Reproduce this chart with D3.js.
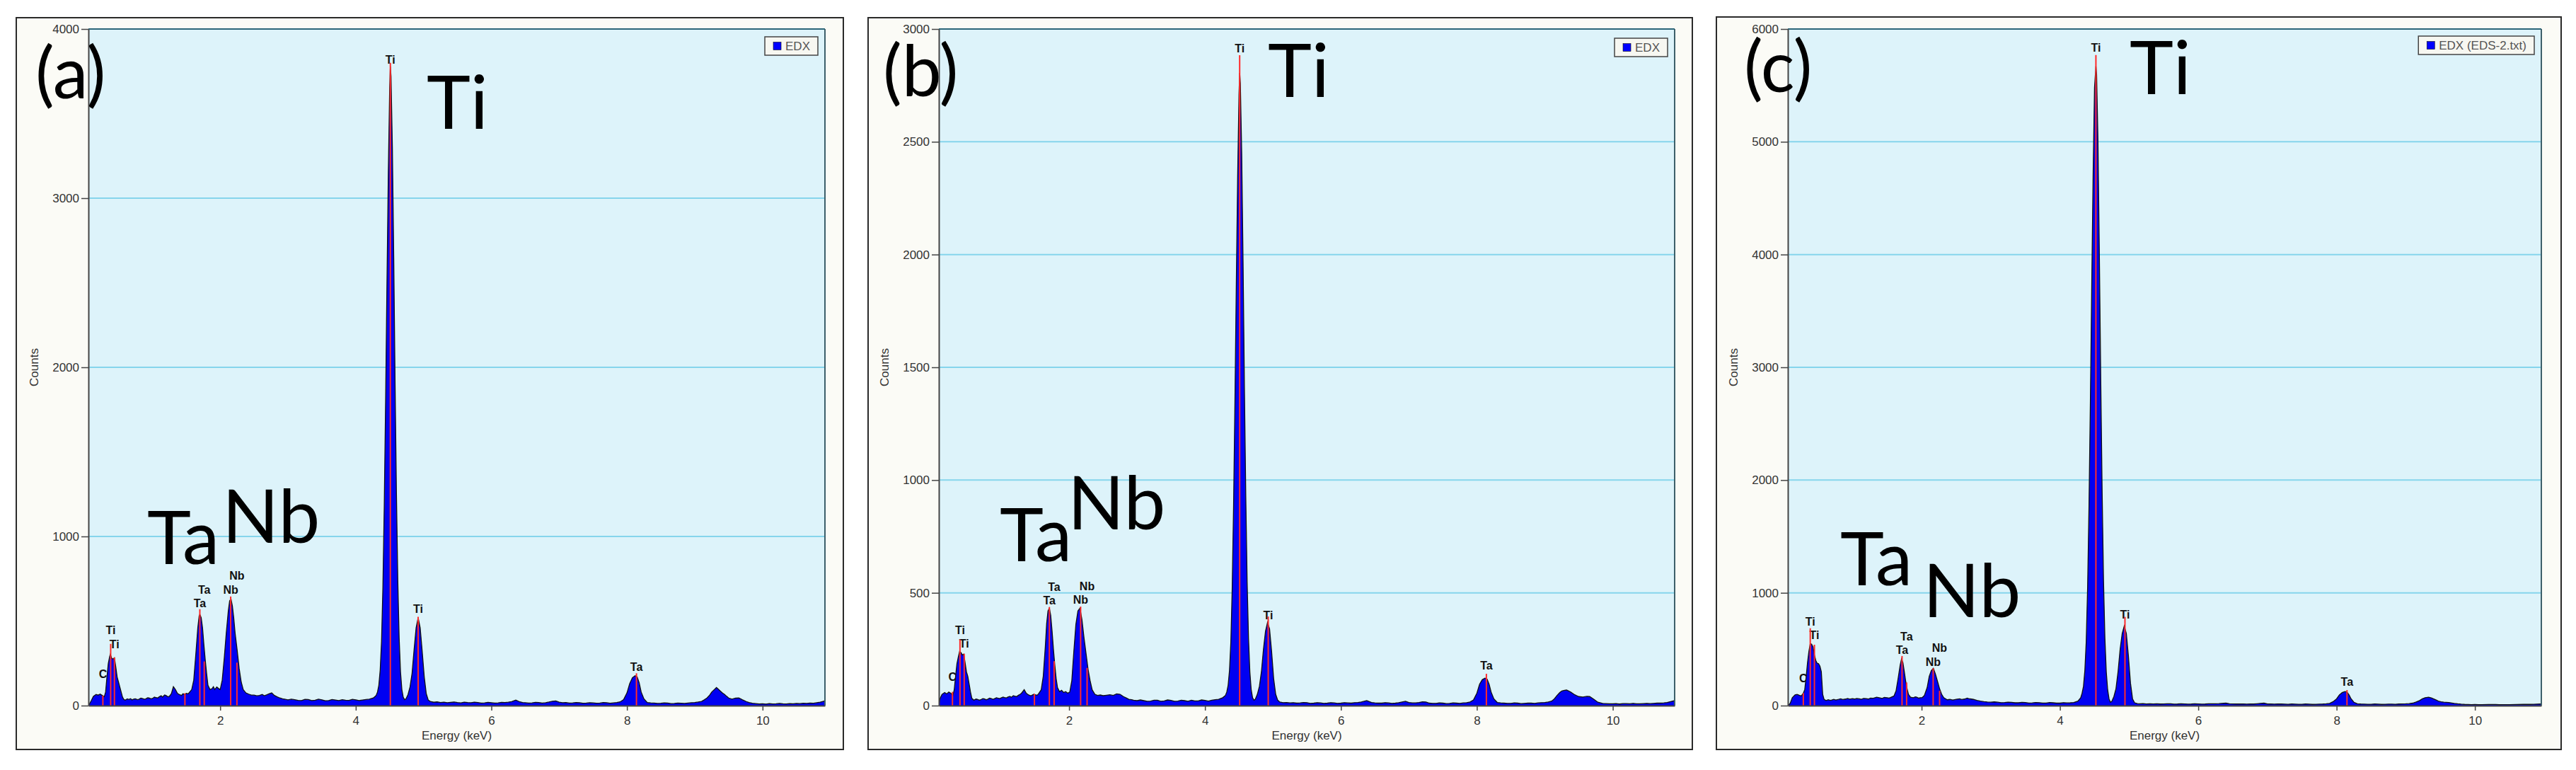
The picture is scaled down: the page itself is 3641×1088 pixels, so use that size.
<!DOCTYPE html>
<html><head><meta charset="utf-8">
<script src="https://cdn.jsdelivr.net/npm/d3@7"></script>
<style>html,body{margin:0;padding:0;background:#fff;} svg{display:block;}</style>
</head><body>
<svg id="chart" width="3641" height="1088"></svg>
<script>
// ---------------- DATA ----------------
const energyTicks = [2, 4, 6, 8, 10];
const countTicksA = [0, 1000, 2000, 3000, 4000];
const countTicksB = [0, 500, 1000, 1500, 2000, 2500, 3000];
const countTicksC = [0, 1000, 2000, 3000, 4000, 5000, 6000];
const panelTags = ["(a)", "(b)", "(c)"];
const legendNames = ["EDX", "EDX", "EDX (EDS-2.txt)"];
const xTitle = "Energy (keV)";
const yTitle = "Counts";
const bigLabels = ["Ti", "Ta", "Nb"];

// spectrum (a): [energy keV, counts]
const spectrumA = [
[0.06,0],[0.10,30],[0.13,55],[0.17,66],[0.20,62],[0.23,68],[0.26,60],[0.29,52],[0.31,80],[0.33,170],[0.35,250],[0.37,290],[0.38,303],[0.40,280],[0.42,275],[0.44,282],[0.46,230],[0.48,170],[0.50,140],[0.52,110],[0.54,80],[0.56,50],[0.58,36],[0.60,32],[0.63,40],[0.65,36],[0.68,41],[0.70,34],[0.73,39],[0.75,40],[0.78,35],[0.80,37],[0.83,44],[0.85,42],[0.88,38],[0.90,39],[0.93,46],[0.95,45],[0.98,40],[1.00,42],[1.03,50],[1.05,48],[1.08,45],[1.10,52],[1.13,58],[1.15,50],[1.18,63],[1.20,60],[1.23,52],[1.25,55],[1.28,70],[1.31,112],[1.34,95],[1.37,72],[1.40,65],[1.43,60],[1.45,70],[1.48,66],[1.50,72],[1.53,70],[1.55,80],[1.58,95],[1.61,150],[1.64,300],[1.67,460],[1.69,530],[1.70,540],[1.72,520],[1.74,460],[1.76,360],[1.78,270],[1.80,190],[1.82,120],[1.85,95],[1.88,100],[1.90,112],[1.92,95],[1.95,110],[1.98,100],[2.00,95],[2.03,150],[2.06,280],[2.09,430],[2.12,560],[2.14,620],[2.16,630],[2.18,590],[2.20,520],[2.22,430],[2.25,330],[2.28,220],[2.31,140],[2.34,95],[2.38,75],[2.42,68],[2.46,62],[2.50,62],[2.54,58],[2.58,60],[2.62,66],[2.65,58],[2.69,64],[2.72,70],[2.76,75],[2.80,60],[2.84,52],[2.88,45],[2.92,40],[2.95,38],[3.00,34],[3.05,38],[3.10,35],[3.15,31],[3.20,30],[3.25,37],[3.30,36],[3.35,30],[3.40,32],[3.45,38],[3.50,34],[3.55,29],[3.60,30],[3.65,36],[3.70,33],[3.75,30],[3.80,35],[3.85,32],[3.90,31],[3.95,37],[4.00,34],[4.05,30],[4.10,33],[4.15,36],[4.20,38],[4.26,45],
[4.30,60],[4.32,80],[4.34,120],[4.36,210],[4.38,380],[4.40,700],[4.42,1180],[4.44,1800],[4.46,2500],[4.48,3150],[4.50,3650],[4.51,3780],[4.52,3720],[4.54,3300],[4.56,2650],[4.58,1900],[4.60,1250],[4.62,740],[4.64,400],[4.66,200],[4.68,95],[4.70,50],[4.72,35],[4.74,40],[4.77,65],
[4.80,110],[4.83,190],[4.86,330],[4.89,460],[4.92,519],[4.95,460],[4.98,320],[5.01,170],[5.04,70],[5.07,32],[5.10,25],
[5.15,20],[5.20,22],[5.25,18],[5.30,20],[5.35,17],[5.40,19],[5.45,21],[5.50,18],[5.55,16],[5.60,20],[5.65,18],[5.70,17],[5.75,20],[5.80,18],[5.85,15],[5.90,16],[5.95,19],[6.00,17],[6.05,15],[6.10,16],[6.15,19],[6.20,18],[6.25,20],[6.30,24],[6.36,33],[6.42,22],[6.46,18],[6.50,17],[6.55,15],[6.60,16],[6.65,19],[6.70,18],[6.75,15],[6.80,17],[6.85,21],[6.90,26],[6.95,28],[7.00,20],[7.05,17],[7.10,18],[7.15,15],[7.20,16],[7.25,18],[7.30,17],[7.35,14],[7.40,15],[7.45,17],[7.50,16],[7.55,14],[7.60,15],[7.65,18],[7.70,17],[7.75,14],[7.80,16],[7.85,18],[7.90,22],[7.95,35],[8.00,75],[8.04,130],[8.08,165],[8.12,177],[8.15,170],[8.18,135],[8.21,80],[8.25,40],[8.30,18],[8.35,16],[8.40,15],[8.45,13],[8.50,14],[8.55,16],[8.60,15],[8.65,12],[8.70,13],[8.75,15],[8.80,14],[8.85,13],[8.90,15],[8.95,17],[9.00,18],[9.05,21],[9.10,25],[9.14,34],[9.18,45],[9.22,62],[9.25,80],[9.29,95],[9.32,107],[9.35,96],[9.38,85],[9.41,74],[9.44,66],[9.47,55],[9.50,45],[9.55,38],[9.60,44],[9.65,45],[9.70,35],[9.76,24],[9.80,18],[9.85,14],[9.90,12],[9.95,10],[10.00,11],[10.05,9],[10.10,12],[10.15,10],[10.20,11],[10.25,13],[10.30,11],[10.35,10],[10.40,12],[10.45,11],[10.50,13],[10.55,12],[10.60,14],[10.65,13],[10.70,15],[10.75,14],[10.80,17],[10.85,20],[10.90,26],[10.93,31]
];

// spectrum (b)
const spectrumB = [
[0.08,0],[0.10,30],[0.13,50],[0.17,58],[0.20,52],[0.23,60],[0.26,55],[0.29,45],[0.31,70],[0.33,130],[0.35,186],[0.37,215],[0.39,241],[0.41,235],[0.43,225],[0.45,228],[0.47,190],[0.49,150],[0.51,130],[0.53,95],[0.55,60],[0.57,32],[0.60,24],[0.63,29],[0.65,28],[0.68,24],[0.70,26],[0.73,31],[0.75,30],[0.78,26],[0.80,28],[0.83,33],[0.85,32],[0.88,28],[0.90,30],[0.93,35],[0.95,33],[0.98,31],[1.00,34],[1.03,38],[1.05,36],[1.08,34],[1.10,38],[1.13,41],[1.15,37],[1.18,44],[1.20,42],[1.23,40],[1.25,45],[1.28,50],[1.30,55],[1.34,71],[1.37,55],[1.40,48],[1.43,44],[1.45,45],[1.48,50],[1.50,48],[1.53,46],[1.55,52],[1.59,70],[1.62,130],[1.65,260],[1.67,364],[1.69,420],[1.71,432],[1.73,400],[1.75,330],[1.77,250],[1.79,180],[1.81,120],[1.83,80],[1.86,62],[1.89,68],[1.92,58],[1.95,62],[1.98,55],[2.01,60],[2.04,110],[2.07,240],[2.10,360],[2.13,420],[2.16,432],[2.19,380],[2.22,300],[2.25,230],[2.28,160],[2.31,110],[2.34,70],[2.38,50],[2.42,45],[2.46,47],[2.50,44],[2.55,46],[2.60,48],[2.65,45],[2.70,52],[2.75,50],[2.80,40],[2.84,34],[2.88,28],[2.92,26],[2.95,24],[3.00,22],[3.05,25],[3.10,22],[3.15,19],[3.20,20],[3.25,24],[3.30,24],[3.35,19],[3.40,21],[3.45,25],[3.50,23],[3.55,19],[3.60,20],[3.65,24],[3.70,22],[3.75,19],[3.80,24],[3.85,21],[3.90,21],[3.95,25],[4.00,23],[4.05,20],[4.10,24],[4.15,26],[4.20,28],[4.26,35],
[4.30,45],[4.32,60],[4.34,90],[4.36,155],[4.38,280],[4.40,520],[4.42,880],[4.44,1340],[4.46,1860],[4.48,2340],[4.50,2710],[4.51,2805],[4.52,2760],[4.54,2450],[4.56,1970],[4.58,1410],[4.60,930],[4.62,550],[4.64,300],[4.66,150],[4.68,70],[4.70,35],[4.72,24],[4.74,28],[4.77,50],
[4.80,85],[4.83,150],[4.86,250],[4.89,330],[4.92,369],[4.95,340],[4.98,240],[5.01,120],[5.04,50],[5.07,24],[5.10,16],
[5.15,13],[5.20,14],[5.25,12],[5.30,13],[5.35,11],[5.40,12],[5.45,14],[5.50,13],[5.55,10],[5.60,11],[5.65,13],[5.70,12],[5.75,10],[5.80,11],[5.85,13],[5.90,12],[5.95,10],[6.00,11],[6.05,13],[6.10,12],[6.15,11],[6.20,13],[6.25,14],[6.30,16],[6.38,22],[6.45,14],[6.50,12],[6.55,11],[6.60,11],[6.65,13],[6.70,12],[6.75,10],[6.80,11],[6.85,13],[6.90,16],[6.95,19],[7.00,14],[7.05,12],[7.10,12],[7.15,14],[7.20,17],[7.25,16],[7.30,11],[7.35,10],[7.40,10],[7.45,12],[7.50,11],[7.55,9],[7.60,10],[7.65,12],[7.70,11],[7.75,10],[7.80,12],[7.85,13],[7.90,16],[7.95,25],[8.00,55],[8.04,95],[8.08,115],[8.12,122],[8.15,118],[8.18,95],[8.21,60],[8.25,30],[8.30,14],[8.35,12],[8.40,11],[8.45,10],[8.50,10],[8.55,12],[8.60,11],[8.65,9],[8.70,10],[8.75,11],[8.80,11],[8.85,10],[8.90,12],[8.95,13],[9.00,14],[9.05,16],[9.10,20],[9.14,30],[9.18,45],[9.22,58],[9.25,65],[9.29,68],[9.32,69],[9.35,65],[9.38,60],[9.41,54],[9.44,48],[9.47,44],[9.50,40],[9.56,38],[9.62,41],[9.66,40],[9.72,28],[9.78,15],[9.85,10],[9.90,9],[9.95,8],[10.00,8],[10.05,9],[10.10,7],[10.15,9],[10.20,9],[10.25,8],[10.30,10],[10.35,8],[10.40,8],[10.45,9],[10.50,10],[10.55,9],[10.60,10],[10.65,11],[10.70,11],[10.75,12],[10.80,14],[10.85,18],[10.91,22]
];

// spectrum (c)
const spectrumC = [
[0.07,0],[0.10,20],[0.13,70],[0.17,95],[0.20,100],[0.23,92],[0.26,85],[0.29,110],[0.31,142],[0.33,250],[0.35,380],[0.37,480],[0.39,550],[0.41,545],[0.43,520],[0.45,450],[0.47,400],[0.49,375],[0.51,372],[0.53,350],[0.55,300],[0.56,200],[0.57,100],[0.59,55],[0.62,45],[0.65,52],[0.68,47],[0.70,50],[0.73,56],[0.76,50],[0.80,55],[0.83,60],[0.86,54],[0.90,58],[0.93,63],[0.96,57],[1.00,62],[1.03,58],[1.06,63],[1.10,60],[1.13,56],[1.16,64],[1.20,62],[1.23,58],[1.26,66],[1.30,65],[1.35,75],[1.40,68],[1.43,64],[1.46,72],[1.50,70],[1.53,67],[1.55,72],[1.60,85],[1.63,130],[1.66,240],[1.69,360],[1.71,414],[1.73,380],[1.75,300],[1.77,215],[1.79,150],[1.81,100],[1.84,75],[1.88,70],[1.91,78],[1.93,75],[1.96,66],[1.98,70],[2.01,72],[2.04,90],[2.08,160],[2.11,260],[2.14,310],[2.17,331],[2.20,280],[2.23,215],[2.26,150],[2.29,100],[2.32,70],[2.37,52],[2.41,55],[2.45,50],[2.50,56],[2.55,60],[2.58,54],[2.62,58],[2.66,66],[2.68,62],[2.72,58],[2.75,55],[2.80,46],[2.85,40],[2.90,35],[2.95,32],[3.00,30],[3.05,33],[3.10,30],[3.15,26],[3.20,27],[3.25,31],[3.30,29],[3.35,25],[3.40,25],[3.45,29],[3.50,27],[3.55,23],[3.60,24],[3.65,28],[3.70,26],[3.75,23],[3.80,23],[3.85,27],[3.90,25],[3.95,22],[4.00,22],[4.05,26],[4.10,24],[4.15,25],[4.20,28],[4.26,40],
[4.30,70],[4.32,110],[4.34,170],[4.36,310],[4.38,570],[4.40,1050],[4.42,1770],[4.44,2700],[4.46,3750],[4.48,4730],[4.50,5480],[4.52,5670],[4.53,5600],[4.55,5000],[4.57,4000],[4.59,2900],[4.61,1900],[4.63,1110],[4.65,600],[4.67,300],[4.69,140],[4.71,60],[4.73,30],[4.75,38],[4.78,80],
[4.81,150],[4.84,300],[4.87,500],[4.90,640],[4.93,707],[4.96,640],[4.99,440],[5.02,200],[5.05,60],[5.08,25],[5.12,18],
[5.16,16],[5.20,18],[5.25,15],[5.30,17],[5.35,15],[5.40,16],[5.45,14],[5.50,15],[5.55,17],[5.60,16],[5.65,13],[5.70,14],[5.75,16],[5.80,15],[5.85,13],[5.90,14],[5.95,16],[6.00,15],[6.05,13],[6.10,14],[6.15,16],[6.20,16],[6.25,17],[6.30,18],[6.40,22],[6.45,17],[6.50,15],[6.55,14],[6.60,14],[6.65,15],[6.70,13],[6.75,14],[6.80,14],[6.85,17],[6.90,20],[6.95,22],[7.00,15],[7.05,14],[7.10,13],[7.15,15],[7.20,14],[7.25,13],[7.30,12],[7.35,14],[7.40,13],[7.45,12],[7.50,12],[7.55,14],[7.60,13],[7.65,11],[7.70,12],[7.75,13],[7.80,14],[7.85,16],[7.90,20],[7.95,35],[8.00,60],[8.04,95],[8.08,115],[8.12,125],[8.15,120],[8.18,95],[8.21,60],[8.25,30],[8.30,16],[8.35,14],[8.40,13],[8.45,12],[8.50,12],[8.55,14],[8.60,13],[8.65,11],[8.70,12],[8.75,13],[8.80,13],[8.85,12],[8.90,14],[8.95,15],[9.00,16],[9.05,18],[9.10,22],[9.15,32],[9.20,45],[9.24,60],[9.28,70],[9.33,75],[9.37,68],[9.40,60],[9.44,50],[9.47,40],[9.51,34],[9.55,30],[9.62,28],[9.70,20],[9.75,16],[9.80,13],[9.85,11],[9.90,10],[9.95,9],[10.00,10],[10.05,8],[10.10,9],[10.20,10],[10.30,10],[10.35,8],[10.40,9],[10.50,9],[10.60,10],[10.70,11],[10.80,11],[10.85,12],[10.95,14]
];

// element markers: [energy, marker top (counts), label, label baseline (counts)]
const markersA = [
[0.27,59,"C",164],[0.385,365,"Ti",422],[0.44,285,"Ti",338],[1.48,73,"",0],[1.70,570,"Ta",583],[1.765,261,"Ta",662],
[2.155,645,"Nb",659],[2.247,254,"Nb",743],[4.51,3800,"Ti",3797],[4.92,525,"Ti",548],[8.14,191,"Ta",206]
];
const markersB = [
[0.284,61,"C",109],[0.395,293,"Ti",318],[0.457,230,"Ti",258],[1.49,52,"",0],[1.71,437,"Ta",449],[1.78,197,"Ta",509],
[2.17,439,"Nb",452],[2.265,167,"Nb",513],[4.51,2884,"Ti",2898],[4.93,395,"Ti",384],[8.14,141,"Ta",159]
];
const markersC = [
[0.29,111,"C",207],[0.39,686,"Ti",709],[0.45,540,"Ti",590],[1.717,440,"Ta",458],[1.783,205,"Ta",577],
[2.167,331,"Nb",349],[2.26,132,"Nb",475],[4.52,5769,"Ti",5798],[4.94,787,"Ti",772],[8.15,138,"Ta",173]
];

// ---------------- LAYOUT ----------------
const layout = [
 {frame:[23,25,1192,1059], plot:[125,41,1166,997], xDom:[0.057,10.92],
  tag:[50,139], ti:[603,182], ta:[208,797], nb:[314,767], legendTop:52},
 {frame:[1227,25,2392,1059], plot:[1327,41,2367,997], xDom:[0.084,10.91],
  tag:[1248,136], ti:[1792,137], ta:[1413,793], nb:[1509,748], legendTop:54},
 {frame:[2426,24,3620,1059], plot:[2527,41,3592,997], xDom:[0.066,10.96],
  tag:[2465,130], ti:[3010,133], ta:[2601,827], nb:[2718,872], legendTop:51}
];
const spectra = [spectrumA, spectrumB, spectrumC];
const markers = [markersA, markersB, markersC];
const yTickSets = [countTicksA, countTicksB, countTicksC];

const svg = d3.select("#chart");
const axisFont = "'Liberation Sans', Arial, sans-serif";
const bigFont = "Lato, 'Open Sans', sans-serif";

layout.forEach((L, i) => {
  const g = svg.append("g");
  const [fx0, fy0, fx1, fy1] = L.frame;
  const [px0, py0, px1, py1] = L.plot;
  const yTicks = yTickSets[i];
  const yMax = d3.max(yTicks);
  const x = d3.scaleLinear().domain(L.xDom).range([px0, px1]);
  const y = d3.scaleLinear().domain([0, yMax]).range([py1, py0]);

  g.append("rect").attr("x", fx0).attr("y", fy0).attr("width", fx1 - fx0).attr("height", fy1 - fy0)
    .attr("fill", "#fbfbf6").attr("stroke", "#2a2a2a").attr("stroke-width", 2);
  g.append("rect").attr("x", px0).attr("y", py0).attr("width", px1 - px0).attr("height", py1 - py0)
    .attr("fill", "#ddf3fa");

  const clipId = "clip" + i;
  svg.append("clipPath").attr("id", clipId).append("rect")
    .attr("x", px0).attr("y", py0).attr("width", px1 - px0).attr("height", py1 - py0);

  // gridlines
  g.selectAll(".grid").data(yTicks.filter(t => t > 0 && t < yMax)).join("line")
    .attr("x1", px0).attr("x2", px1).attr("y1", d => y(d)).attr("y2", d => y(d))
    .attr("stroke", "#86d5ec").attr("stroke-width", 2);

  const inner = g.append("g").attr("clip-path", `url(#${clipId})`);

  // element labels (behind spectrum)
  inner.selectAll(".lab").data(markers[i].filter(m => m[2])).join("text")
    .attr("x", d => x(d[0])).attr("y", d => y(d[3]))
    .attr("text-anchor", "middle").attr("font-family", axisFont).attr("font-weight", "bold")
    .attr("font-size", 16).attr("fill", "#111").text(d => d[2]);

  const spec = spectra[i];
  const area = d3.area().x(d => x(d[0])).y0(y(0)).y1(d => y(d[1]));
  const line = d3.line().x(d => x(d[0])).y(d => y(d[1]));
  inner.append("path").datum(spec).attr("d", area).attr("fill", "#0000f2");
  inner.append("path").datum(spec).attr("d", line).attr("fill", "none")
    .attr("stroke", "#111").attr("stroke-width", 1.3);

  // red marker lines
  inner.selectAll(".mk").data(markers[i]).join("line")
    .attr("x1", d => x(d[0])).attr("x2", d => x(d[0]))
    .attr("y1", y(0)).attr("y2", d => y(d[1]))
    .attr("stroke", "#ff2a2a").attr("stroke-width", 2);

  // plot border (top / right)
  g.append("line").attr("x1", px0).attr("x2", px1).attr("y1", py0).attr("y2", py0)
    .attr("stroke", "#2c6679").attr("stroke-width", 2);
  g.append("line").attr("x1", px1).attr("x2", px1).attr("y1", py0).attr("y2", py1)
    .attr("stroke", "#3d5f6a").attr("stroke-width", 2);

  // axes
  const yAxis = g.append("g").attr("transform", `translate(${px0},0)`)
    .call(d3.axisLeft(y).tickValues(yTicks).tickSize(10).tickSizeOuter(0).tickPadding(3).tickFormat(d3.format("d")));
  const xAxis = g.append("g").attr("transform", `translate(0,${py1})`)
    .call(d3.axisBottom(x).tickValues(energyTicks).tickSize(7).tickSizeOuter(0).tickPadding(8).tickFormat(d3.format("d")));
  [yAxis, xAxis].forEach(a => {
    a.select(".domain").attr("stroke", "#444").attr("stroke-width", 2);
    a.selectAll(".tick line").attr("stroke", "#444").attr("stroke-width", 1.5);
    a.selectAll(".tick text").attr("font-family", axisFont).attr("font-size", 17).attr("fill", "#333");
  });

  g.append("text").attr("x", (px0 + px1) / 2).attr("y", 1045).attr("text-anchor", "middle")
    .attr("font-family", axisFont).attr("font-size", 17).attr("fill", "#333").text(xTitle);
  g.append("text").attr("transform", `translate(${px0 - 71},${(py0 + py1) / 2}) rotate(-90)`)
    .attr("text-anchor", "middle").attr("font-family", axisFont).attr("font-size", 17).attr("fill", "#333").text(yTitle);

  // big annotations
  g.append("text").attr("x", L.tag[0]).attr("y", L.tag[1]).attr("font-family", bigFont)
    .attr("font-size", 100).attr("fill", "#000").text(panelTags[i]);
  [[bigLabels[0], L.ti], [bigLabels[1], L.ta], [bigLabels[2], L.nb]].forEach(([t, p]) => {
    g.append("text").attr("x", p[0]).attr("y", p[1]).attr("font-family", bigFont)
      .attr("font-size", 105).attr("fill", "#000").text(t);
  });

  // legend
  const lg = g.append("g");
  const lt = lg.append("text").attr("font-family", axisFont).attr("font-size", 17).attr("fill", "#555")
    .text(legendNames[i]);
  const tw = lt.node().getComputedTextLength();
  const lw = tw + 40, lh = 26;
  const lx = px1 - 10 - lw, ly = L.legendTop;
  lg.insert("rect", "text").attr("x", lx).attr("y", ly).attr("width", lw).attr("height", lh)
    .attr("fill", "#f7f7f1").attr("stroke", "#444").attr("stroke-width", 1.5);
  lg.append("rect").attr("x", lx + 12).attr("y", ly + 7.5).attr("width", 11).attr("height", 11)
    .attr("fill", "#0000ff").attr("stroke", "#111").attr("stroke-width", 0.6);
  lt.attr("x", lx + 29).attr("y", ly + 19);
});
</script>
</body></html>
